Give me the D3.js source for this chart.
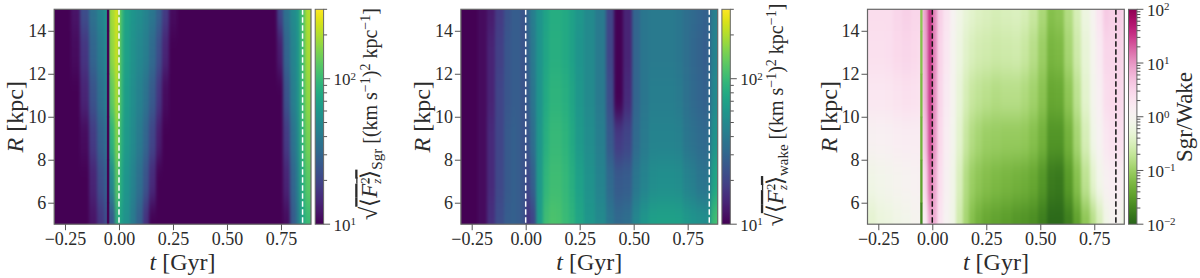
<!DOCTYPE html>
<html lang="en">
<head>
<meta charset="UTF-8">
<title>Vertical force power, Sgr and wake</title>
<script src="https://d3js.org/d3.v7.min.js"></script>
<style>
  html, body { margin: 0; padding: 0; background: #fff; }
  svg { display: block; }
  text { font-family: "Liberation Serif", serif; fill: #2b2b2b; }
  .tick text { font-size: 18px; }
  .axis-title { font-size: 24px; }
  .cb-title { font-size: 20px; }
  .domain, .tick line { stroke: #555; }
</style>
</head>
<body>
<svg width="1200" height="278"></svg>
<script>
// time bin edges [Gyr], one more than the number of columns below
const timeEdges = [-0.30,-0.26,-0.22,-0.18,-0.14,-0.10,-0.07,-0.045,-0.02,0,0.02,0.05,0.08,0.11,0.14,0.17,0.20,0.23,0.27,0.32,0.37,0.41,0.45,0.49,0.53,0.57,0.61,0.65,0.69,0.73,0.76,0.79,0.82,0.84,0.86,0.88,0.89];
const radii = [15, 13, 11, 9, 7, 5];
const xTicks = [-0.25, 0, 0.25, 0.5, 0.75];
const yTicks = [6, 8, 10, 12, 14];
const pericentres = [0, 0.85];
const gapEdges = [-0.056, -0.045];

// sqrt<Fz^2> from Sgr, one row per radius
const sgrValues = [
  [10,10,12,22,35,45,55,190,250,110,70,58,52,46,38,28,18,11,10,10,10,10,10,10,10,10,10,10,10,20,35,50,60,110,200,200],
  [10,10,11,17,30,40,48,170,235,105,68,55,48,42,32,22,14,10,10,10,10,10,10,10,10,10,10,10,10,13,30,46,58,105,190,190],
  [10,10,10,14,24,34,42,130,205,100,65,52,44,36,26,17,11,10,10,10,10,10,10,10,10,10,10,10,10,10,24,42,55,100,170,170],
  [10,10,10,11,18,28,34,90,165,90,62,50,40,30,20,13,10,10,10,10,10,10,10,10,10,10,10,10,10,10,18,36,50,95,150,150],
  [10,10,10,10,14,22,28,50,130,80,58,45,34,24,15,10,10,10,10,10,10,10,10,10,10,10,10,10,10,10,14,30,45,85,125,125],
  [10,10,10,10,12,17,22,25,90,70,55,40,28,16,10,10,10,10,10,10,10,10,10,10,10,10,10,10,10,10,11,26,40,75,100,100]
];
// sqrt<Fz^2> from the wake
const wakeValues = [
  [10,10,11,13,18,24,27,27,24,30,42,58,72,82,82,78,70,60,50,40,20,10,14,30,38,40,40,40,38,34,32,30,28,30,42,45],
  [10,10,11,14,19,25,27,27,24,28,40,58,74,84,84,78,70,58,50,40,20,10,14,30,38,40,40,40,38,34,31,29,27,30,44,48],
  [10,10,11,14,20,25,27,27,24,26,38,58,78,90,90,84,74,60,50,40,22,10,15,30,38,42,42,42,40,35,32,30,28,31,48,52],
  [10,10,11,15,20,26,28,27,24,24,34,60,84,98,98,90,78,62,52,42,26,18,20,32,40,46,46,46,44,38,35,33,31,34,55,60],
  [10,10,11,15,21,26,28,27,24,20,28,62,92,105,105,96,84,68,56,46,32,26,27,38,46,52,54,54,52,46,42,38,36,40,70,80],
  [10,10,11,16,22,27,28,27,24,16,20,65,105,115,112,100,90,74,60,50,38,32,34,48,60,68,70,70,68,62,58,55,52,55,100,115]
];
// Sgr / wake
const ratioValues = [
  [2.5,2.5,2.5,3,3.5,3,3,9,40,12,3.5,2,1.1,.7,.5,.42,.36,.33,.3,.32,.34,.3,.22,.13,.07,.08,.15,.3,.6,1,2,4,3.5,3.5,4,3],
  [2.3,2.3,2.4,2.8,3,2.8,2.6,8,38,12,3.2,1.8,1,.6,.4,.32,.28,.26,.24,.25,.26,.22,.16,.1,.055,.06,.12,.25,.5,.9,1.6,3,3,3,3.4,2.6],
  [1.8,1.8,1.9,2.1,2.3,2.2,2.1,7,34,11,3,1.6,.95,.5,.3,.22,.19,.17,.15,.16,.16,.14,.11,.075,.04,.042,.08,.18,.42,.85,1.3,2.5,2.8,2.8,3,2.4],
  [1.2,1.25,1.3,1.4,1.5,1.5,1.5,5,28,10,2.8,1.4,.85,.42,.22,.15,.12,.1,.095,.09,.09,.085,.07,.05,.027,.027,.05,.12,.3,.72,1.1,1.8,2.2,2.2,2.4,2],
  [.7,.8,.85,.95,1.05,1.15,1.2,3,18,8,2.4,1.2,.75,.32,.15,.1,.08,.068,.06,.055,.05,.047,.04,.028,.016,.015,.03,.07,.18,.42,.8,1.2,1.4,1.5,1.5,1.1],
  [.45,.55,.6,.7,.8,.95,1,1.5,8,7,2,1.1,.7,.26,.12,.07,.05,.04,.036,.032,.028,.026,.023,.017,.011,.011,.017,.035,.08,.16,.32,.7,1,1.1,1,.6]
];
// the one narrow time bin just before t = 0, per radius
const sgrGap = [10, 10, 10, 10, 10, 10];
const ratioGap = [.08, .07, .06, .05, .035, .02];

const svg = d3.select("svg");
const top_ = 9.3, bottom = 224.2, panelW = 256.8;
const y = d3.scaleLinear().domain([5, 15]).range([bottom, top_]);

const viridisLog = d3.scaleSequentialLog(d3.interpolateViridis).domain([10, 300]).clamp(true);
const ratioLog = d3.scaleSequentialLog(t => d3.interpolatePiYG(1 - t)).domain([0.01, 100]).clamp(true);

const defs = svg.append("defs");
const blur = defs.append("filter").attr("id", "smooth")
    .attr("filterUnits", "userSpaceOnUse")
    .attr("x", 0).attr("y", -60).attr("width", 1200).attr("height", 400)
    .attr("color-interpolation-filters", "sRGB");
blur.append("feGaussianBlur").attr("stdDeviation", "1.7 11");

function rowEdges(i) {
  // outer rows run past the frame, so the blur does not fade at the edges
  const hi = i === 0 ? 18 : radii[i] + 1;
  const lo = i === radii.length - 1 ? 2 : radii[i] - 1;
  return [y(hi), y(lo)];
}

function supText(sel, base, exp) {
  sel.text(base);
  sel.append("tspan").attr("dy", -5.5).style("font-size", "11px").text(exp);
}

function drawPanel(cfg) {
  const g = svg.append("g").attr("transform", `translate(${cfg.left},0)`);
  const x = d3.scaleLinear().domain([-0.3, 0.889]).range([0, panelW]);
  const clipId = "clip" + cfg.id;
  defs.append("clipPath").attr("id", clipId).append("rect")
      .attr("x", 0).attr("y", top_).attr("width", panelW).attr("height", bottom - top_);

  const clipped = g.append("g").attr("clip-path", `url(#${clipId})`);
  const heat = clipped.append("g").attr("filter", "url(#smooth)")
      .attr("transform", `translate(${-cfg.left},0)`)
      .append("g").attr("transform", `translate(${cfg.left},0)`)
      .attr("shape-rendering", "crispEdges");
  cfg.values.forEach((row, i) => {
    const [y0, y1] = rowEdges(i);
    heat.selectAll(null).data(row).enter().append("rect")
        .attr("x", (d, j) => x(timeEdges[j]) - (j === 0 ? 20 : 0))
        .attr("width", (d, j) => x(timeEdges[j + 1]) - x(timeEdges[j]) + (j === 0 || j === row.length - 1 ? 20 : 1))
        .attr("y", y0).attr("height", y1 - y0 + 1)
        .attr("fill", d => cfg.color(d));
  });

  if (cfg.gap) {
    clipped.selectAll(".gap").data(cfg.gap).enter().append("rect")
        .attr("class", "gap")
        .attr("x", x(gapEdges[0])).attr("width", x(gapEdges[1]) - x(gapEdges[0]))
        .attr("y", (d, i) => rowEdges(i)[0])
        .attr("height", (d, i) => rowEdges(i)[1] - rowEdges(i)[0] + 0.5)
        .attr("fill", d => cfg.color(d));
  }

  clipped.selectAll(".peri").data(pericentres).enter().append("line")
      .attr("class", "peri")
      .attr("x1", d => x(d)).attr("x2", d => x(d))
      .attr("y1", top_).attr("y2", bottom)
      .attr("stroke", cfg.dash).attr("stroke-width", 1.5)
      .attr("stroke-dasharray", "5.5 2.5");

  g.append("rect").attr("x", 0).attr("y", top_).attr("width", panelW).attr("height", bottom - top_)
      .attr("fill", "none").attr("stroke", "#666").attr("stroke-width", 1.2);

  const xAxis = g.append("g").attr("transform", `translate(0,${bottom})`)
      .call(d3.axisBottom(x).tickValues(xTicks).tickFormat(d3.format(".2f")).tickSize(6).tickPadding(2));
  xAxis.select(".domain").remove();
  const yAxis = g.append("g")
      .call(d3.axisLeft(y).tickValues(yTicks).tickFormat(d3.format("d")).tickSize(6).tickPadding(2));
  yAxis.select(".domain").remove();

  const xt = g.append("text").attr("class", "axis-title").attr("text-anchor", "middle")
      .attr("x", panelW / 2).attr("y", 270);
  xt.append("tspan").style("font-style", "italic").text("t");
  xt.append("tspan").text(" [Gyr]");

  const yt = g.append("text").attr("class", "axis-title").attr("text-anchor", "middle")
      .attr("transform", `translate(-31,${(top_ + bottom) / 2}) rotate(-90)`);
  yt.append("tspan").style("font-style", "italic").text("R");
  yt.append("tspan").text(" [kpc]");

  // colour bar
  const cb = g.append("g").attr("transform", `translate(${panelW + 4.2},0)`);
  const cbW = 8.4;
  const gradId = "grad" + cfg.id;
  const grad = defs.append("linearGradient").attr("id", gradId)
      .attr("x1", 0).attr("x2", 0).attr("y1", 1).attr("y2", 0);
  d3.range(0, 1.0001, 0.02).forEach(f => {
    grad.append("stop").attr("offset", f).attr("stop-color", cfg.color.interpolator()(f));
  });
  cb.append("rect").attr("x", 0).attr("y", top_).attr("width", cbW).attr("height", bottom - top_)
      .attr("fill", `url(#${gradId})`).attr("stroke", "#666").attr("stroke-width", 1);

  const cy = d3.scaleLog().domain(cfg.color.domain()).range([bottom, top_]);
  cb.selectAll(".minor").data(cfg.minor).enter().append("line").attr("class", "minor")
      .attr("x1", cbW).attr("x2", cbW + 3.5)
      .attr("y1", d => cy(d)).attr("y2", d => cy(d))
      .attr("stroke", "#555");
  cb.selectAll(".major").data(cfg.major).enter().append("line").attr("class", "major")
      .attr("x1", cbW).attr("x2", cbW + 6.5)
      .attr("y1", d => cy(d)).attr("y2", d => cy(d))
      .attr("stroke", "#555");
  cb.selectAll(".lab").data(cfg.major).enter().append("text").attr("class", "lab")
      .attr("x", cbW + 10).attr("y", d => cy(d) + 6.5)
      .style("font-size", "17px")
      .each(function(d) { supText(d3.select(this), "10", String(Math.round(Math.log10(d))).replace("-", "\u2212")); });

  cfg.title(g.append("text").attr("class", "cb-title").attr("text-anchor", "middle")
      .attr("transform", `translate(${cfg.titleX},${cfg.titleY}) rotate(-90)`));
}

function forceTitle(sel, sub) {
  sel.append("tspan").style("font-size", "24px").text("\u221A");
  const over = sel.append("tspan").style("text-decoration", "overline").style("font-size", "23px");
  over.append("tspan").text("\u27E8");
  over.append("tspan").style("font-style", "italic").text("F");
  over.append("tspan").attr("dy", -8).style("font-size", "13px").text("2");
  over.append("tspan").attr("dy", 12).attr("dx", -6.5).style("font-size", "13px").style("font-style", "italic").text("z");
  over.append("tspan").attr("dy", -4).text("\u27E9");
  sel.append("tspan").attr("dy", 5).style("font-size", "15px").text(sub);
  sel.append("tspan").attr("dy", -5).text(" [(km s");
  sel.append("tspan").attr("dy", -7).style("font-size", "14px").text("\u22121");
  sel.append("tspan").attr("dy", 7).text(")");
  sel.append("tspan").attr("dy", -7).style("font-size", "14px").text("2");
  sel.append("tspan").attr("dy", 7).text(" kpc");
  sel.append("tspan").attr("dy", -7).style("font-size", "14px").text("\u22121");
  sel.append("tspan").attr("dy", 7).text("]");
}

const forceMinor = [20, 30, 40, 50, 60, 70, 80, 90, 200, 300];
const ratioMinor = [0.01, 0.1, 1, 10].flatMap(d => [2, 3, 4, 5, 6, 7, 8, 9].map(m => d * m));

drawPanel({ id: 1, left: 54.2, values: sgrValues, gap: sgrGap, color: viridisLog, dash: "#fff",
  major: [10, 100], minor: forceMinor, titleX: 323, titleY: 114, title: s => forceTitle(s, "Sgr") });
drawPanel({ id: 2, left: 460.9, values: wakeValues, color: viridisLog, dash: "#fff",
  major: [10, 100], minor: forceMinor, titleX: 322, titleY: 115, title: s => forceTitle(s, "wake") });
drawPanel({ id: 3, left: 867.5, values: ratioValues, gap: ratioGap, color: ratioLog, dash: "#111",
  major: [0.01, 0.1, 1, 10, 100], minor: ratioMinor, titleX: 324, titleY: 117, title: s => s.style("font-size", "23px").text("Sgr/Wake") });
</script>
</body>
</html>
